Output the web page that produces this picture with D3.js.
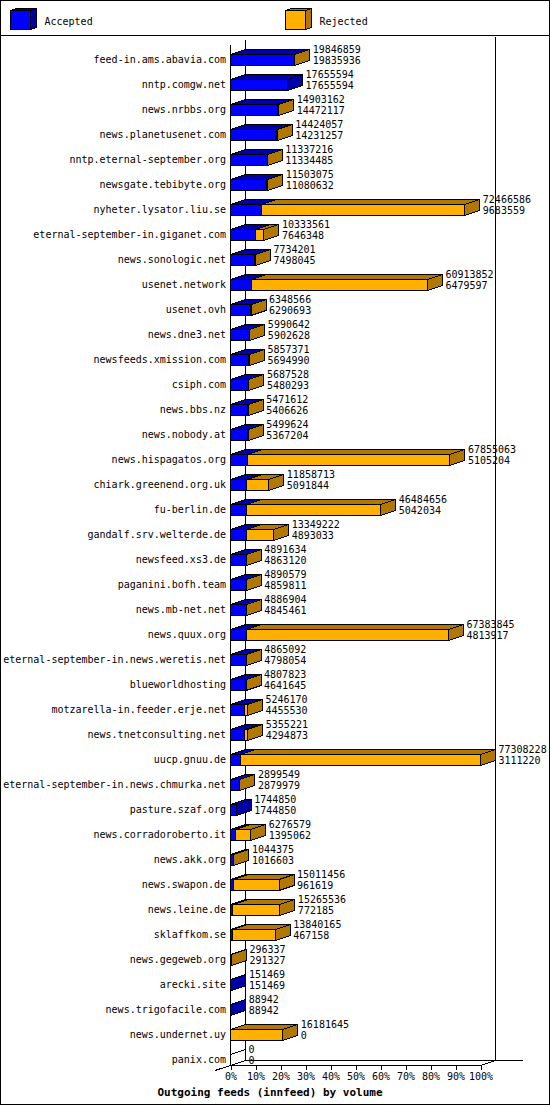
<!DOCTYPE html>
<html>
<head>
<meta charset="utf-8">
<script src="https://cdn.jsdelivr.net/npm/d3@7"></script>
<style>
  body { margin: 0; background: #fff; }
  text { font-family: "DejaVu Sans Mono", monospace; font-size: 10px; fill: #000; }
</style>
</head>
<body>
<div id="chart"></div>
<script>
// innfeed outgoing feeds: first number = offered, second = accepted
const feeds = ["feed-in.ams.abavia.com", "nntp.comgw.net", "news.nrbbs.org", "news.planetusenet.com",
  "nntp.eternal-september.org", "newsgate.tebibyte.org", "nyheter.lysator.liu.se",
  "eternal-september-in.giganet.com", "news.sonologic.net", "usenet.network", "usenet.ovh",
  "news.dne3.net", "newsfeeds.xmission.com", "csiph.com", "news.bbs.nz", "news.nobody.at",
  "news.hispagatos.org", "chiark.greenend.org.uk", "fu-berlin.de", "gandalf.srv.welterde.de",
  "newsfeed.xs3.de", "paganini.bofh.team", "news.mb-net.net", "news.quux.org",
  "eternal-september-in.news.weretis.net", "blueworldhosting", "motzarella-in.feeder.erje.net",
  "news.tnetconsulting.net", "uucp.gnuu.de", "eternal-september-in.news.chmurka.net",
  "pasture.szaf.org", "news.corradoroberto.it", "news.akk.org", "news.swapon.de",
  "news.leine.de", "sklaffkom.se", "news.gegeweb.org", "arecki.site", "news.trigofacile.com",
  "news.undernet.uy", "panix.com"];

const offered = [19846859, 17655594, 14903162, 14424057, 11337216, 11503075, 72466586,
  10333561, 7734201, 60913852, 6348566, 5990642, 5857371, 5687528, 5471612, 5499624,
  67855063, 11858713, 46484656, 13349222, 4891634, 4890579, 4886904, 67383845,
  4865092, 4807823, 5246170, 5355221, 77308228, 2899549, 1744850, 6276579, 1044375,
  15011456, 15265536, 13840165, 296337, 151469, 88942, 16181645, 0];

const accepted = [19835936, 17655594, 14472117, 14231257, 11334485, 11080632, 9683559,
  7646348, 7498045, 6479597, 6290693, 5902628, 5694990, 5480293, 5406626, 5367204,
  5105204, 5091844, 5042034, 4893033, 4863120, 4859811, 4845461, 4813917,
  4798054, 4641645, 4455530, 4294873, 3111220, 2879979, 1744850, 1395062, 1016603,
  961619, 772185, 467158, 291327, 151469, 88942, 0, 0];

const ticks = [0, 10, 20, 30, 40, 50, 60, 70, 80, 90, 100];

const W = 550, H = 1105;
const dx = 15, dy = 5;
const blue = "#0000ff", blueDark = "#0000a8",
  orange = "#ffb000", orangeDark = "#b07800";

const svg = d3.select("#chart").append("svg")
  .attr("width", W).attr("height", H)
  .attr("shape-rendering", "crispEdges");

svg.append("rect")
  .attr("x", 0.5).attr("y", 0.5).attr("width", W - 1).attr("height", H - 1)
  .attr("fill", "#fff").attr("stroke", "#000").attr("stroke-width", 1.5);

// legend
svg.append("line").attr("x1", 0).attr("x2", W).attr("y1", 35.5).attr("y2", 35.5)
  .attr("stroke", "#000");

function box(g, x0, x1, y0, y1, d, e, front, dark) {
  // zero length bars only leave their outline
  if (x1 === x0) { front = "none"; dark = "none"; }
  g.append("polygon")
    .attr("points", [[x0, y0], [x0 + d, y0 - e], [x1 + d, y0 - e], [x1, y0]].join(" "))
    .attr("fill", dark).attr("stroke", "#000");
  g.append("polygon")
    .attr("points", [[x1, y0], [x1 + d, y0 - e], [x1 + d, y1 - e], [x1, y1]].join(" "))
    .attr("fill", dark).attr("stroke", "#000");
  g.append("rect")
    .attr("x", x0).attr("y", y0).attr("width", x1 - x0).attr("height", y1 - y0)
    .attr("fill", front).attr("stroke", "#000");
}

const legend = svg.append("g");
[["Accepted", blue, blueDark, 10.5], ["Rejected", orange, orangeDark, 285.5]].forEach(([name, c, cd, lx]) => {
  box(legend, lx, lx + 20, 10.5, 29.5, 6, 2, c, cd);
  legend.append("text").attr("x", lx + 34).attr("y", 25).text(name);
});

// scales
const x = d3.scaleLinear().domain([0, d3.max(offered)]).range([230.5, 480.5]);
const y = d3.scaleBand().domain(feeds).range([46.5, 1071.5]);
const pct = d3.scaleLinear().domain([0, 100]).range([230.5, 480.5]);

// walls
const walls = svg.append("g").attr("stroke", "#000").attr("fill", "none");
walls.append("line").attr("x1", 245.5).attr("x2", 245.5).attr("y1", 40).attr("y2", 1060.5);
walls.append("line").attr("x1", 495.5).attr("x2", 495.5).attr("y1", 37).attr("y2", 1060.5);
walls.append("line").attr("x1", 245.5).attr("x2", 523).attr("y1", 1060.5).attr("y2", 1060.5);
walls.append("line").attr("x1", 215).attr("x2", 245.5).attr("y1", 1070.5).attr("y2", 1060.5);
walls.append("line").attr("x1", 480.5).attr("x2", 495.5).attr("y1", 1065.5).attr("y2", 1060.5);

// bars
const rows = svg.append("g");
feeds.forEach((f, i) => {
  const g = rows.append("g");
  const yc = y(f) + y.bandwidth() / 2;
  const y0 = Math.round(yc - 5) + 0.5, y1 = y0 + 11;
  box(g, x(0), x(accepted[i]), y0, y1, dx, dy, blue, blueDark);
  if (offered[i] > accepted[i]) {
    box(g, x(accepted[i]), x(offered[i]), y0, y1, dx, dy, orange, orangeDark);
  }
  const tx = x(offered[i]) + dx + 3;
  g.append("text").attr("x", tx).attr("y", yc - 6).text(offered[i]);
  g.append("text").attr("x", tx).attr("y", yc + 5).text(accepted[i]);
  g.append("text").attr("x", 226).attr("y", yc + 4)
    .attr("text-anchor", "end").text(f);
});

// front axes
const ax = svg.append("g").attr("stroke", "#000");
ax.append("line").attr("x1", 230.5).attr("x2", 230.5).attr("y1", 45).attr("y2", 1065.5);
ax.append("line").attr("x1", 230.5).attr("x2", 480.5).attr("y1", 1065.5).attr("y2", 1065.5);

const xAxis = svg.append("g")
  .attr("transform", "translate(0,1065.5)")
  .call(d3.axisBottom(pct).tickValues(ticks).tickSize(4).tickPadding(3).tickFormat(d => d + "%"));
xAxis.select(".domain").remove();
xAxis.selectAll("text").attr("font-family", "DejaVu Sans Mono").attr("font-size", 10);

svg.append("text")
  .attr("x", 270).attr("y", 1096)
  .attr("text-anchor", "middle")
  .style("font-size", "11px").style("font-weight", "bold")
  .text("Outgoing feeds (innfeed) by volume");
</script>
</body>
</html>
